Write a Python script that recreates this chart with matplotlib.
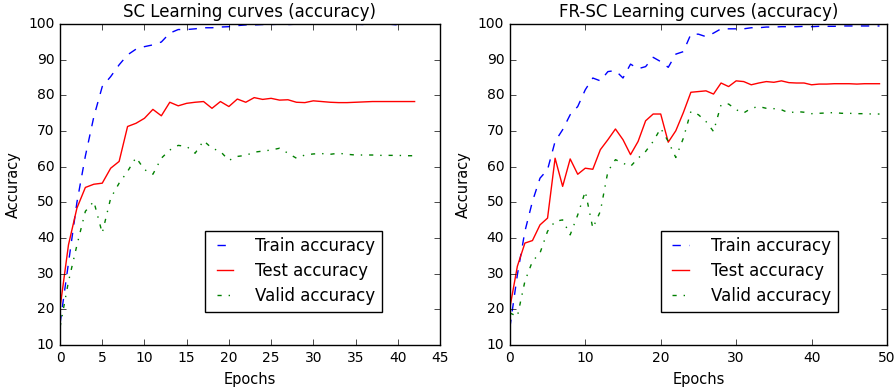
import numpy as np
import matplotlib
matplotlib.use('Agg')
import matplotlib.pyplot as plt

plt.style.use('classic')

# SC run (epochs 0..42)
sc_train = [16, 33, 50, 63, 74, 82.5, 85.3, 88.6, 91.4, 93, 93.7, 94.2, 95, 97.5, 98.5,
            98.5, 98.7, 99, 99, 99.2, 99.3, 99.6, 99.8, 99.8, 99.9, 99.9, 100, 99.9, 100,
            100, 100, 100, 100, 100, 100, 100, 99.9, 100, 100, 100, 99.8, 100, 100]
sc_test = [20.4, 38.1, 48.4, 54.2, 55.1, 55.4, 59.6, 61.5, 71.3, 72.2, 73.6, 76.1, 74.3,
           78.1, 77.1, 77.8, 78.1, 78.3, 76.4, 78.3, 76.9, 79.0, 78.1, 79.4, 78.9, 79.2,
           78.7, 78.8, 78.1, 78.0, 78.5, 78.3, 78.1, 78.0, 78.0, 78.1, 78.2, 78.3, 78.3,
           78.3, 78.3, 78.3, 78.3]
sc_valid = [15, 27.8, 38, 47.5, 50.3, 41.4, 51.2, 55.4, 58.7, 62.6, 59.2, 57.9, 62.4,
            64.7, 66, 65.7, 63.8, 67.3, 65.2, 64.3, 61.8, 62.9, 63.2, 64.1, 64.4, 64.7,
            65.2, 63.8, 62.4, 63.3, 63.6, 63.7, 63.5, 63.8, 63.5, 63.3, 63.3, 63.3, 63.2,
            63.2, 63.2, 63.1, 63.1]

# FR-SC run (epochs 0..49)
fr_train = [14.8, 29.7, 41.9, 50.3, 56.8, 59.2, 67.1, 70.4, 74.6, 76.9, 81.6, 84.9, 84.1,
            86.7, 87, 84.9, 88.8, 87.5, 88.1, 90.7, 89.5, 87.9, 91.6, 92.3, 97.2, 97.2,
            96.5, 97.5, 98.7, 98.7, 98.7, 98.7, 99, 99, 99.2, 99.2, 99.3, 99.3, 99.3, 99.4,
            99.3, 99.4, 99.4, 99.4, 99.5, 99.5, 99.5, 99.5, 99.5, 99.5]
fr_test = [20.4, 32.1, 38.6, 39.3, 43.7, 45.6, 62.4, 54.5, 62.2, 57.9, 59.6, 59.3, 64.8,
           67.6, 70.6, 67.6, 63.4, 67.1, 72.9, 74.8, 74.8, 66.9, 70.1, 75.2, 80.9, 81.1,
           81.3, 80.4, 83.5, 82.5, 84.1, 83.9, 83.0, 83.5, 83.9, 83.7, 84.1, 83.6, 83.5,
           83.5, 83.0, 83.2, 83.2, 83.3, 83.3, 83.3, 83.2, 83.3, 83.3, 83.3]
fr_valid = [19, 18, 27.9, 33.5, 35.8, 41.9, 44.7, 45.1, 40.9, 46.5, 53.1, 42.8, 47.5,
            58.7, 62, 61, 60.1, 62.4, 64.3, 67.1, 70.8, 67.1, 62.6, 68, 75.5, 74.6, 72.7,
            69.9, 77.4, 77.6, 76, 75.1, 76.4, 76.9, 76.4, 76.3, 76, 75.1, 75.5, 75.3, 74.9,
            75, 75.1, 75.2, 75, 75, 74.9, 74.9, 74.8, 74.8]

fig = plt.figure(figsize=(8.96, 3.87), dpi=100, facecolor='white')
ax1 = fig.add_axes([0.067, 0.1085, 0.424, 0.829])
ax2 = fig.add_axes([0.569, 0.1085, 0.421, 0.829])

panels = [
    (ax1, sc_train, sc_test, sc_valid, 'SC Learning curves (accuracy)', 45, 0.847),
    (ax2, fr_train, fr_test, fr_valid, 'FR-SC Learning curves (accuracy)', 50, 0.869),
]

for ax, tr, te, va, title, xmax, lx in panels:
    ep = np.arange(len(tr))
    ax.plot(ep, tr, 'b--', label='Train accuracy')
    ax.plot(ep, te, 'r-', label='Test accuracy')
    ax.plot(ep, va, 'g-.', label='Valid accuracy')
    ax.set_xlim(0, xmax)
    ax.set_ylim(10, 100)
    ax.set_title(title, fontsize=12)
    ax.set_xlabel('Epochs', fontsize=10.5)
    ax.set_ylabel('Accuracy', fontsize=10.5)
    ax.tick_params(labelsize=10)
    ax.legend(loc='lower right', bbox_to_anchor=(lx, 0.103), borderaxespad=0,
              fontsize=12, handlelength=1.6, handletextpad=1.0, labelspacing=0.42)

plt.savefig('out.png', dpi=100, facecolor='white')
plt.close()
